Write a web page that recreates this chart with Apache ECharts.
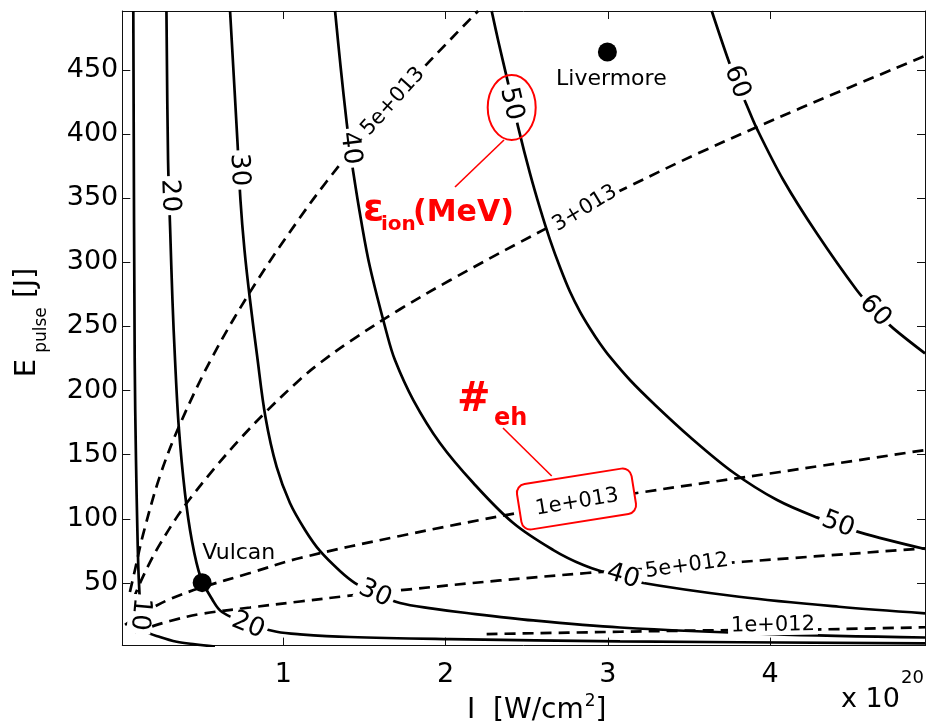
<!DOCTYPE html>
<html>
<head>
<meta charset="utf-8">
<script src="https://cdn.jsdelivr.net/npm/echarts@6/dist/echarts.min.js"></script>
<style>
  html, body { margin: 0; padding: 0; background: #fff; }
  #chart { width: 926px; height: 723px; }
</style>
</head>
<body>
<div id="chart"></div>
<script>
// ---- axes: intensity I (x 1e20 W/cm^2) and pulse energy E (J) ----
const xRange = [0.008, 4.954];
const yRange = [1.1, 496];
const xTickValues = [1, 2, 3, 4];
const yTickValues = [50, 100, 150, 200, 250, 300, 350, 400, 450];

// ---- ion energy contours (MeV), samples [I, E] ----
const ion10 = [[0.0758,496],[0.0844,223.8],[0.0924,145.8],[0.1004,93.6],[0.1066,62.4],[0.1128,44.5],[0.120,28.9],[0.132,17.9],[0.158,11.9],[0.240,7.8],[0.343,4.1],[0.456,2.1],[0.579,0.4]];
const ion20 = [[0.280,496],[0.290,379.8],[0.303,325.4],[0.317,270.6],[0.333,223.8],[0.356,171.6],[0.394,120.1],[0.436,83.5],[0.490,54.6],[0.564,36.7],[0.622,27.3],[0.783,17.9],[0.959,11.9],[1.103,9.9],[1.411,7.8],[2.027,6.2],[3.075,4.4],[4.954,2.9]];
const ion30 = [[0.672,496],[0.718,393.0],[0.736,348.6],[0.761,309.6],[0.795,270.6],[0.838,227.7],[0.890,179.4],[0.959,140.4],[1.041,112.3],[1.134,91.3],[1.226,74.9],[1.349,59.3],[1.442,49.9],[1.565,41.7],[1.719,34.3],[1.922,30.0],[2.130,26.5],[2.540,20.7],[3.075,15.2],[3.999,10.1],[4.954,7.4]];
const ion40 = [[1.319,496],[1.352,453.9],[1.391,408.6],[1.411,389.1],[1.431,370.4],[1.479,333.0],[1.534,296.3],[1.637,244.9],[1.688,223.8],[1.801,192.6],[1.965,159.1],[2.171,127.9],[2.417,96.7],[2.664,75.6],[2.849,63.9],[3.013,56.9],[3.173,50.9],[3.808,39.2],[4.424,31.4],[4.954,26.3]];
const ion50 = [[2.284,496],[2.326,471.8],[2.376,444.8],[2.448,405.1],[2.520,369.3],[2.582,342.0],[2.643,317.7],[2.705,296.1],[2.766,277.2],[2.828,261.6],[2.890,248.4],[2.951,236.7],[3.013,226.2],[3.136,208.2],[3.280,190.1],[3.506,163.8],[3.773,136.1],[4.040,114.8],[4.287,101.1],[4.553,89.4],[4.954,76.4]];
const ion60 = [[3.640,496],[3.742,457.8],[3.795,440.6],[3.855,422.7],[3.917,404.5],[4.081,364.2],[4.287,322.6],[4.533,278.4],[4.646,262.0],[4.759,248.5],[4.954,229.0]];
const ionCurves = [ion10, ion20, ion30, ion40, ion50, ion60];

// inline labels of the ion energy contours
const ionLabelText = ['10', '20', '20', '30', '30', '40', '40', '50', '50', '60', '60'];
const ionLabelPoints = [[0.117,25.7],[0.300,352],[0.783,16.8],[0.727,372],[1.565,41.7],[1.413,389],[3.093,55],[2.405,423.5],[4.418,95.5],[3.795,440.6],[4.646,262]];

// ---- hot electron number contours, samples [I, E] ----
const ehLevels = ['1e+012', '5e+012', '1e+013', '3+013', '5e+013'];
const eh1e12 = [[2.253,10.1],[3.075,11.9],[3.567,12.9],[4.017,13.4],[4.344,13.8],[4.954,15.4]];
const eh5e12 = [[0.086,11.7],[0.179,15.6],[0.302,20.3],[0.487,25.7],[0.795,30.8],[1.103,35.5],[1.392,39.8],[1.762,44.8],[2.335,51.9],[2.871,57.7],[3.487,63.2],[3.832,66.5],[4.954,77.0]];
const eh1e13 = [[0.025,17.2],[0.086,22.6],[0.179,29.6],[0.302,37.4],[0.487,46.0],[0.795,57.7],[1.103,69.4],[1.719,86.6],[2.440,104.5],[2.810,112.3],[3.179,120.1],[4.060,136.5],[4.954,153.6]];
const eh3e13 = [[0.074,36.7],[0.117,49.8],[0.179,66.2],[0.240,80.2],[0.343,101.1],[0.425,115.6],[0.569,138.3],[0.733,162.2],[0.898,184.0],[1.103,208.7],[1.226,221.5],[1.411,238.4],[1.719,263.4],[2.027,286.0],[2.448,315.0],[2.859,342.0],[3.136,359.6],[3.567,385.6],[4.184,420.1],[4.954,460.9]];
const eh5e13 = [[0.055,42.9],[0.086,60.1],[0.137,88.2],[0.240,133.4],[0.364,173.9],[0.569,227.7],[0.832,284.3],[1.103,334.9],[1.267,363.0],[1.473,395.5],[1.676,425.4],[1.873,453.0],[2.200,496]];
const ehCurves = [eh1e12, eh5e12, eh1e13, eh3e13, eh5e13];
const ehLabelPoints = [[4.017,17],[3.487,63.2],[2.810,112.8],[2.859,342.0],[1.676,425.4]];

// ---- laser facilities ----
const facilityNames = ['Vulcan', 'Livermore'];
const facilityPoints = [[0.5, 50.2], [2.997, 464]];

// ---- styling ----
const FONT = 'DejaVu Sans';
const ionLabelAngles = [-95, -88, -22, -87, -25, -83, -17, -77, -21, -70, -46];
const ehLabelAngles = [1, 8, 9.5, 31, 48];
const facilityLabelOffsets = [[0, -29], [4, 27]];
const facilityLabelAlign = ['left', 'center'];

const measureCtx = document.createElement('canvas').getContext('2d');
function textWidth(str, size, weight) {
  measureCtx.font = (weight || 'normal') + ' ' + size + 'px "' + FONT + '"';
  return measureCtx.measureText(str).width;
}

const series = [];

ehCurves.forEach((pts) => {
  series.push({
    type: 'line', data: pts, smooth: 0.35, symbol: 'none', silent: true, z: 2,
    lineStyle: { color: '#000', width: 2.7, type: [11, 7], cap: 'butt' }
  });
});

ionCurves.forEach((pts) => {
  series.push({
    type: 'line', data: pts, smooth: 0.35, symbol: 'none', silent: true, z: 3,
    lineStyle: { color: '#000', width: 2.7 }
  });
});

const labelItemStyle = { color: 'rgba(0,0,0,0)', opacity: 1 };

series.push({
  type: 'scatter', silent: true, z: 20, symbolSize: 1,
  itemStyle: labelItemStyle,
  label: {
    show: true, position: 'inside', formatter: '{b}',
    fontFamily: FONT, fontSize: 26, color: '#000', opacity: 1,
    textBorderWidth: 0, backgroundColor: '#fff', padding: [0, 3], lineHeight: 24
  },
  data: ionLabelPoints.map((p, i) => ({ name: ionLabelText[i], value: p, label: { rotate: ionLabelAngles[i] } }))
});

series.push({
  type: 'scatter', silent: true, z: 20, symbolSize: 1,
  itemStyle: labelItemStyle,
  label: {
    show: true, position: 'inside', formatter: '{b}',
    fontFamily: FONT, fontSize: 21, color: '#000', opacity: 1,
    textBorderWidth: 0, backgroundColor: '#fff', padding: [0, 3], lineHeight: 20
  },
  data: ehLabelPoints.map((p, i) => ({ name: ehLevels[i], value: p, label: { rotate: ehLabelAngles[i] } }))
});

series.push({
  type: 'scatter', silent: true, z: 25, symbol: 'circle', symbolSize: 19,
  itemStyle: { color: '#000', opacity: 1 },
  label: { show: true, position: 'inside', formatter: '{b}', fontFamily: FONT, fontSize: 22, color: '#000', textBorderWidth: 0 },
  data: facilityPoints.map((p, i) => ({
    name: facilityNames[i], value: p,
    label: { align: facilityLabelAlign[i], verticalAlign: 'middle', offset: facilityLabelOffsets[i] }
  }))
});

const axisCommon = {
  type: 'value',
  axisLine: { show: true, onZero: false, lineStyle: { color: '#111', width: 1 } },
  splitLine: { show: false }
};

// x axis title pieces
const titleX = 467;
const titleMain = 'I  [W/cm';
const wMain = textWidth(titleMain, 28);
const wSup = textWidth('2', 17);

const option = {
  backgroundColor: '#fff',
  animation: false,
  grid: { left: 122.3, top: 11, width: 802.7, height: 634.6, containLabel: false },
  xAxis: [
    Object.assign({}, axisCommon, {
      min: xRange[0], max: xRange[1], position: 'bottom',
      axisTick: { show: true, inside: true, length: 8, customValues: xTickValues, lineStyle: { color: '#111' } },
      axisLabel: { show: true, customValues: xTickValues, fontFamily: FONT, fontSize: 27, color: '#000', margin: 16 }
    }),
    Object.assign({}, axisCommon, {
      min: xRange[0], max: xRange[1], position: 'top',
      axisTick: { show: true, inside: true, length: 8, customValues: xTickValues, lineStyle: { color: '#111' } },
      axisLabel: { show: false }
    })
  ],
  yAxis: [
    Object.assign({}, axisCommon, {
      min: yRange[0], max: yRange[1], position: 'left',
      axisTick: { show: true, inside: true, length: 8, customValues: yTickValues, lineStyle: { color: '#111' } },
      axisLabel: { show: true, customValues: yTickValues, fontFamily: FONT, fontSize: 27, color: '#000', margin: 4 }
    }),
    Object.assign({}, axisCommon, {
      min: yRange[0], max: yRange[1], position: 'right',
      axisTick: { show: true, inside: true, length: 8, customValues: yTickValues, lineStyle: { color: '#111' } },
      axisLabel: { show: false }
    })
  ],
  series: series,
  graphic: [
    // x axis title and exponent
    { type: 'text', x: titleX, y: 711, z: 30, silent: true,
      style: { text: titleMain, fontFamily: FONT, fontSize: 28, fill: '#000', align: 'left', verticalAlign: 'middle' } },
    { type: 'text', x: titleX + wMain + 1, y: 702, z: 30, silent: true,
      style: { text: '2', fontFamily: FONT, fontSize: 17, fill: '#000', align: 'left', verticalAlign: 'middle' } },
    { type: 'text', x: titleX + wMain + wSup + 1, y: 711, z: 30, silent: true,
      style: { text: ']', fontFamily: FONT, fontSize: 28, fill: '#000', align: 'left', verticalAlign: 'middle' } },
    { type: 'text', x: 841, y: 700, z: 30, silent: true,
      style: { text: 'x 10', fontFamily: FONT, fontSize: 27, fill: '#000', align: 'left', verticalAlign: 'middle' } },
    { type: 'text', x: 901, y: 678, z: 30, silent: true,
      style: { text: '20', fontFamily: FONT, fontSize: 18, fill: '#000', align: 'left', verticalAlign: 'middle' } },
    // y axis title
    { type: 'text', x: 27, y: 368, rotation: Math.PI / 2, z: 30, silent: true,
      style: { text: 'E', fontFamily: FONT, fontSize: 29, fill: '#000', align: 'center', verticalAlign: 'middle' } },
    { type: 'text', x: 42, y: 330, rotation: Math.PI / 2, z: 30, silent: true,
      style: { text: 'pulse', fontFamily: FONT, fontSize: 17, fill: '#000', align: 'center', verticalAlign: 'middle' } },
    { type: 'text', x: 27, y: 283, rotation: Math.PI / 2, z: 30, silent: true,
      style: { text: '[J]', fontFamily: FONT, fontSize: 28, fill: '#000', align: 'center', verticalAlign: 'middle' } },
    // red annotation: ion energy
    { type: 'ellipse', z: 50, silent: true, shape: { cx: 511.7, cy: 107.5, rx: 24, ry: 32.5 },
      style: { fill: 'none', stroke: '#ff0000', lineWidth: 2 } },
    { type: 'line', z: 50, silent: true, shape: { x1: 504, y1: 140, x2: 455, y2: 187 },
      style: { stroke: '#ff0000', lineWidth: 1.6 } },
    { type: 'text', x: 363, y: 210, z: 50, silent: true,
      style: { text: 'ε', fontFamily: FONT, fontWeight: 'bold', fontSize: 38, fill: '#ff0000', align: 'left', verticalAlign: 'middle' } },
    { type: 'text', x: 381, y: 225, z: 50, silent: true,
      style: { text: 'ion', fontFamily: FONT, fontWeight: 'bold', fontSize: 20, fill: '#ff0000', align: 'left', verticalAlign: 'middle' } },
    { type: 'text', x: 413, y: 213, z: 50, silent: true,
      style: { text: '(MeV)', fontFamily: FONT, fontWeight: 'bold', fontSize: 30, fill: '#ff0000', align: 'left', verticalAlign: 'middle' } },
    // red annotation: hot electron number
    { type: 'text', x: 457, y: 401, z: 50, silent: true,
      style: { text: '#', fontFamily: FONT, fontWeight: 'bold', fontSize: 40, fill: '#ff0000', align: 'left', verticalAlign: 'middle' } },
    { type: 'text', x: 494, y: 419, z: 50, silent: true,
      style: { text: 'eh', fontFamily: FONT, fontWeight: 'bold', fontSize: 24, fill: '#ff0000', align: 'left', verticalAlign: 'middle' } },
    { type: 'line', z: 50, silent: true, shape: { x1: 503, y1: 428, x2: 551.7, y2: 476 },
      style: { stroke: '#ff0000', lineWidth: 1.6 } },
    { type: 'rect', x: 576.5, y: 499, rotation: 9 * Math.PI / 180, z: 10, silent: true,
      shape: { x: -58, y: -23, width: 116, height: 46, r: 9 },
      style: { fill: '#fff', stroke: '#ff0000', lineWidth: 2 } }
  ]
};

const chart = echarts.init(document.getElementById('chart'), null, { renderer: 'canvas', width: 926, height: 723 });
chart.setOption(option);
</script>
</body>
</html>
